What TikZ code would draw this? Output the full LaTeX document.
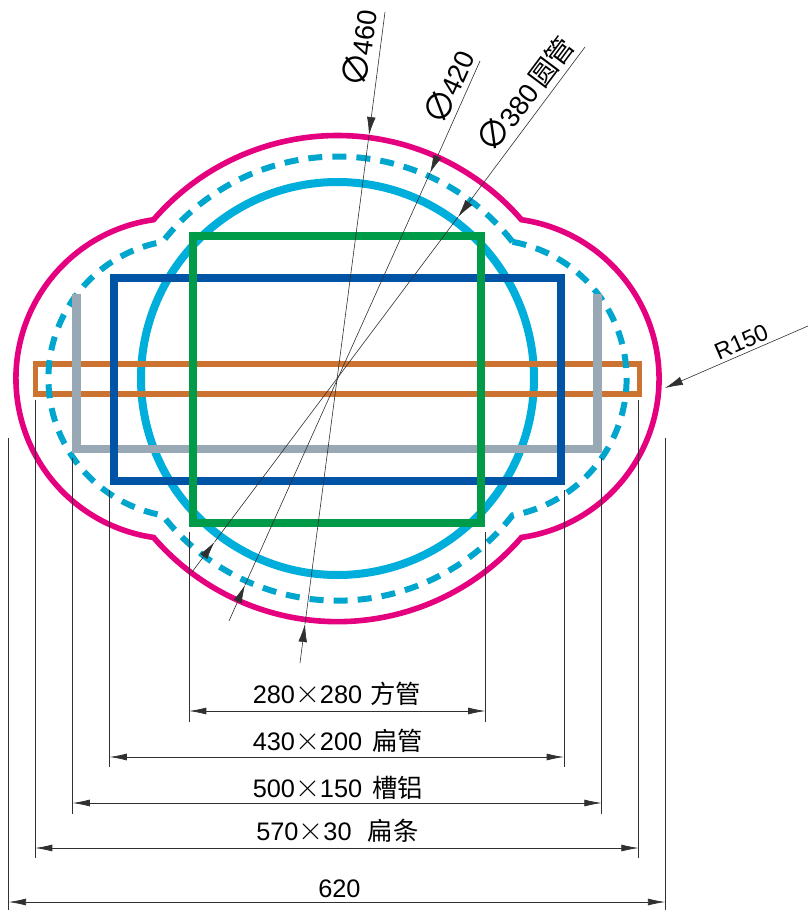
\documentclass[tikz,border=0pt]{standalone}
\usepackage{fontspec}
\usepackage{xcolor}
\usetikzlibrary{arrows.meta}
\newfontfamily\arial{Liberation Sans}
\newfontfamily\cjk{Noto Sans CJK SC}
\definecolor{pinkline}{HTML}{E4007F}
\definecolor{cyanline}{HTML}{00AEDB}
\definecolor{cyandash}{HTML}{00A6CE}
\definecolor{greenline}{HTML}{009B48}
\definecolor{blueline}{HTML}{0054A6}
\definecolor{orangeline}{HTML}{CC7332}
\definecolor{greyline}{HTML}{98A8B4}
\definecolor{ink}{HTML}{303030}
\newcommand{\tms}{{\normalfont\fontsize{26}{26}\selectfont ×}}
\newcommand{\dia}{{\cjk\fontsize{26}{19}\selectfont ∅}\hspace{-1.5pt}}
\tikzset{
  dim/.style={draw=ink, line width=0.55pt, {Latex[length=13pt,width=5.2pt]}-{Latex[length=13pt,width=5.2pt]}},
  ext/.style={draw=ink, line width=0.55pt},
  leader/.style={draw=ink, line width=0.45pt},
  tip/.style={draw=ink, line width=0.45pt, -{Latex[length=13.5pt,width=6.5pt]}},
  lab/.style={inner sep=0pt, text=black, anchor=base west, font=\arial\fontsize{19}{19}\selectfont},
  rlab/.style={inner sep=0pt, text=black, anchor=base, font=\arial\fontsize{20.5}{20.5}\selectfont},
}
% outer contour: main radius, lobe offset, lobe radius, main angle, lobe angle
\newcommand{\cloudpath}[5]{
  ([shift={(#4:#1)}]C)
  arc[start angle=#4, end angle=180-#4, radius=#1]
  arc[start angle=180-#5, end angle=180+#5, radius=#3]
  arc[start angle=180+#4, end angle=360-#4, radius=#1]
  arc[start angle=360-#5, end angle=360+#5, radius=#3]}

\begin{document}
\begin{tikzpicture}[x=0.75pt,y=0.75pt]
  \useasboundingbox (0,0) rectangle (809,-910);
  \coordinate (C) at (337.5,-378.5);
  % tubes and bars
  \draw[cyanline, line width=6pt] (C) circle (196.5);
  \draw[orangeline, line width=3.8pt] (35.5,-364) rectangle (639.5,-394);
  \draw[pinkline, line width=4.2pt, line join=miter] \cloudpath{243}{161}{160.5}{40.8}{81.8} -- cycle;
  \draw[cyandash, line width=4.5pt, dash pattern=on 10.5pt off 7.56pt] \cloudpath{222}{150}{139}{38.0}{79.7};
  \draw[greyline, line width=6.5pt, line join=miter] (76.5,-294) -- (76.5,-449) -- (597.5,-449) -- (597.5,-294);
  \draw[blueline, line width=6.5pt] (114,-278) rectangle (561,-481);
  \draw[greenline, line width=6.5pt] (193,-236) rectangle (481,-523);
  % diameter leaders
  \coordinate (a1) at (385,-12);  \coordinate (a2) at (369,-135);
  \coordinate (a3) at (305,-624); \coordinate (a4) at (300,-663);
  \coordinate (b1) at (480,-61);  \coordinate (b2) at (430,-173);
  \coordinate (b3) at (245,-585); \coordinate (b4) at (229,-621);
  \coordinate (c1) at (585,-47);  \coordinate (c2) at (458,-217);
  \coordinate (c3) at (214.5,-542); \coordinate (c4) at (192,-572);
  \foreach \n in {a,b,c}{
    \draw[tip] (\n1) -- (\n2);
    \draw[leader] (\n2) -- (\n3);
    \draw[tip] (\n4) -- (\n3);
  }
  \node[rlab, rotate=82.6] (d460) at (372,-50) {\dia460};
  \node[rlab, rotate=65.9] (d420) at (460,-92) {\dia420};
  \node[rlab, rotate=53.2] (d380) at (535,-101) {\dia380\hspace{3pt}{\cjk 圆管}};
  % radius
  \coordinate (r1) at (808,-326);
  \coordinate (r2) at (665,-388);
  \draw[tip] (r1) -- (r2);
  \node[rlab, rotate=23.4, font=\arial\fontsize{17.5}{17.5}\selectfont] (r150) at (744.5,-349) {R150};
  % width dimensions
  \foreach \xl/\xr/\ya/\yb/\yc in {189/485.5/532/711/722, 109.5/564/490/757/767,
      72.5/601.7/458/803/814, 35/638.7/400/848/858, 8.7/665.3/438/902/910}{
    \coordinate (p1) at (\xl,-\ya);
    \coordinate (p2) at (\xl,-\yc);
    \coordinate (q1) at (\xr,-\ya);
    \coordinate (q2) at (\xr,-\yc);
    \coordinate (m1) at (\xl,-\yb);
    \coordinate (m2) at (\xr,-\yb);
    \draw[ext] (p1) -- (p2);
    \draw[ext] (q1) -- (q2);
    \draw[dim] (m1) -- (m2);
  }
  \node[lab] (w280) at (252.5,-703) {280\tms280\hspace{6pt}{\cjk 方管}};
  \node[lab] (w430) at (252.5,-750) {430\tms200\hspace{7.5pt}{\cjk 扁管}};
  \node[lab] (w500) at (252.5,-797) {500\tms150\hspace{7.5pt}{\cjk 槽铝}};
  \node[lab] (w570) at (256,-840.5) {570\tms30\hspace{12pt}{\cjk 扁条}};
  \node[lab] (w620) at (318,-897) {620};
\end{tikzpicture}
\end{document}
